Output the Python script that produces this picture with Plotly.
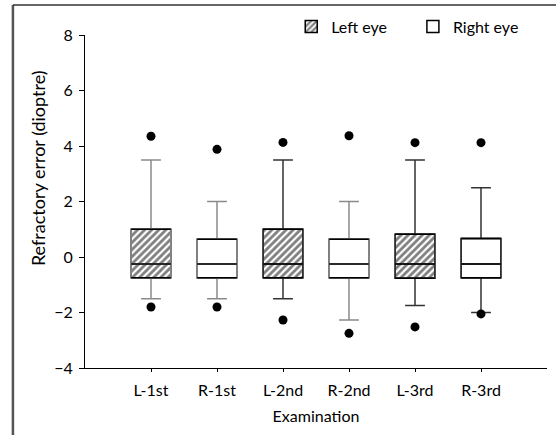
import plotly.graph_objects as go

categories = ["L-1st", "R-1st", "L-2nd", "R-2nd", "L-3rd", "R-3rd"]
eye = ["Left eye", "Right eye", "Left eye", "Right eye", "Left eye", "Right eye"]
q1 = [-0.75, -0.75, -0.75, -0.75, -0.77, -0.75]
median = [-0.25, -0.25, -0.25, -0.25, -0.25, -0.25]
q3 = [1.0, 0.64, 1.0, 0.64, 0.82, 0.67]
lower_whisker = [-1.5, -1.5, -1.5, -2.27, -1.75, -2.0]
upper_whisker = [3.5, 2.0, 3.5, 2.0, 3.5, 2.5]
outlier_high = [4.35, 3.88, 4.13, 4.37, 4.12, 4.12]
outlier_low = [-1.8, -1.8, -2.27, -2.75, -2.52, -2.05]
whisker_colors = ["#8a8a8a", "#8a8a8a", "#333333", "#8a8a8a", "#333333", "#333333"]
y_ticks = [-4, -2, 0, 2, 4, 6, 8]
y_title = "Refractory error (dioptre)"
x_title = "Examination"

FONT = "Lato, 'Open Sans', sans-serif"
fig = go.Figure()

left_idx = [i for i, e in enumerate(eye) if e == "Left eye"]
right_idx = [i for i, e in enumerate(eye) if e == "Right eye"]

# box bodies (hatched for left eye, white for right eye)
fig.add_trace(go.Bar(
    x=[categories[i] for i in left_idx],
    y=[q3[i] - q1[i] for i in left_idx],
    base=[q1[i] for i in left_idx],
    width=0.6, name="Left eye", legend="legend",
    marker=dict(color="white", line=dict(color="black", width=1.5),
                pattern=dict(shape="/", fgcolor="black", bgcolor="white", size=5, solidity=0.55)),
    hoverinfo="skip",
))
fig.add_trace(go.Bar(
    x=[categories[i] for i in right_idx],
    y=[q3[i] - q1[i] for i in right_idx],
    base=[q1[i] for i in right_idx],
    width=0.6, name="Right eye", legend="legend2",
    marker=dict(color="white", line=dict(color="black", width=1.5)),
    hoverinfo="skip",
))

# whiskers and medians
for i, c in enumerate(categories):
    fig.add_trace(go.Box(
        x=[c], q1=[q1[i]], median=[median[i]], q3=[q3[i]],
        lowerfence=[lower_whisker[i]], upperfence=[upper_whisker[i]],
        width=0.6, whiskerwidth=0.5,
        fillcolor="rgba(0,0,0,0)",
        line=dict(color=whisker_colors[i], width=1.5),
        showlegend=False, boxpoints=False,
    ))
    for v in (q1[i], median[i], q3[i]):
        fig.add_shape(type="line", xref="x", yref="y",
                      x0=i - 0.3, x1=i + 0.3, y0=v, y1=v,
                      line=dict(color="black", width=1.5))

# outliers
fig.add_trace(go.Scatter(
    x=categories + categories, y=outlier_high + outlier_low,
    mode="markers", marker=dict(color="black", size=9),
    showlegend=False, hoverinfo="skip",
))

# outer frame lines
fig.add_shape(type="line", xref="paper", yref="paper", x0=-0.156, x1=-0.156, y0=-0.3, y1=1.09,
              line=dict(color="#555555", width=2.5))
fig.add_shape(type="line", xref="paper", yref="paper", x0=-0.156, x1=1.05, y0=1.09, y1=1.09,
              line=dict(color="#333333", width=1.5))

# y-axis title
fig.add_annotation(text=y_title, textangle=-90, xref="paper", yref="paper",
                   x=-0.102, y=0.60, xanchor="center", yanchor="middle", showarrow=False,
                   font=dict(size=18, family=FONT, color="black"))

legend_common = dict(orientation="h", xanchor="right", y=1.025, yanchor="middle",
                     font=dict(size=16), bgcolor="rgba(0,0,0,0)", itemwidth=30)

fig.update_layout(
    width=556, height=435,
    margin=dict(l=85, r=9, t=35, b=67, autoexpand=False),
    paper_bgcolor="white", plot_bgcolor="white",
    barmode="overlay", boxmode="overlay",
    font=dict(family=FONT, size=16, color="black"),
    legend=dict(x=0.665, **legend_common),
    legend2=dict(x=0.95, **legend_common),
    xaxis=dict(type="category", categoryorder="array", categoryarray=categories,
               range=[-1, 6], showline=True, linecolor="black", linewidth=1,
               ticks="outside", ticklen=3, tickcolor="black", showgrid=False, automargin=False,
               tickfont=dict(size=16), ticklabelstandoff=5,
               title=dict(text=x_title, standoff=12, font=dict(size=16))),
    yaxis=dict(range=[-4, 8], tickvals=y_ticks, showline=True, linecolor="black", linewidth=1,
               ticks="outside", ticklen=5, tickcolor="black", showgrid=False, zeroline=False,
               automargin=False, tickfont=dict(size=16), ticklabelstandoff=3),
)

fig.write_html("out.html", config={"displayModeBar": False},
               post_script="document.body.style.margin='0';document.body.style.overflow='hidden';")
